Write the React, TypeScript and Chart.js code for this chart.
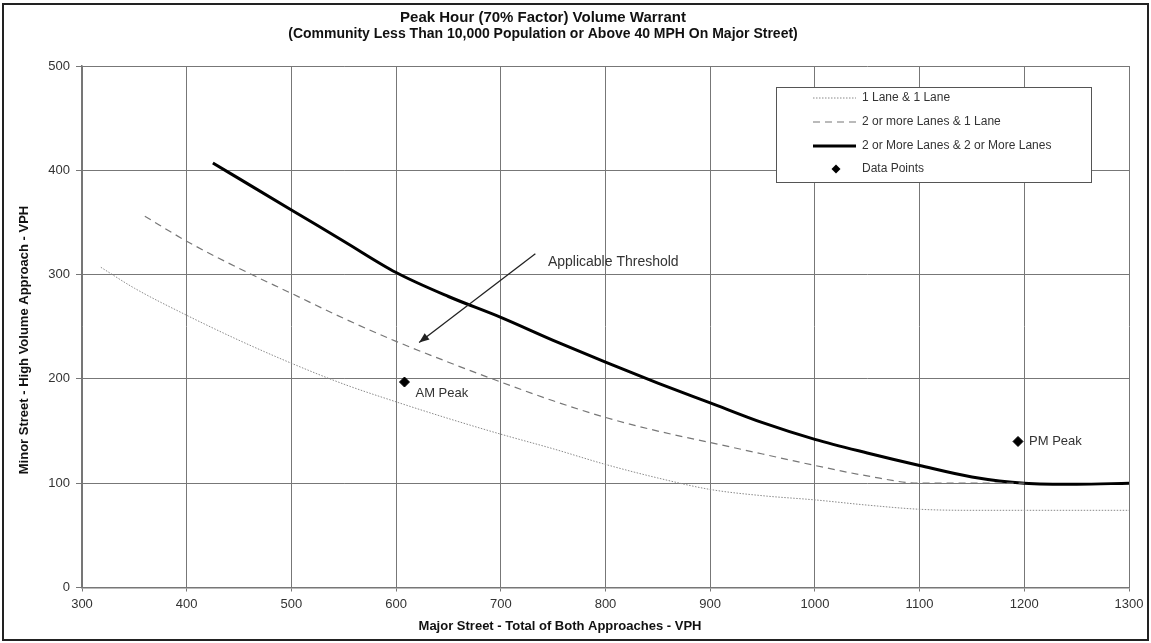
import React, { useEffect, useRef } from 'react';
import { Chart, registerables } from 'chart.js';

Chart.register(...registerables);

const TITLE_LINE = 'Peak Hour (70% Factor) Volume Warrant';
const SUBTITLE_LINE = '(Community Less Than 10,000 Population or Above 40 MPH On Major Street)';
const X_TITLE = 'Major Street - Total of Both Approaches - VPH';
const Y_TITLE = 'Minor Street - High Volume Approach - VPH';

const X_MIN = 300;
const X_MAX = 1300;
const X_STEP = 100;
const Y_MIN = 0;
const Y_MAX = 500;
const Y_STEP = 100;

const SERIES_NAMES = [
  '1 Lane & 1 Lane',
  '2 or more Lanes & 1 Lane',
  '2 or More Lanes & 2 or More Lanes',
  'Data Points',
];

const oneOneX = [318, 350, 400, 450, 500, 550, 600, 650, 700, 750, 800, 850, 900, 950, 1000, 1050, 1100, 1150, 1200, 1250, 1300];
const oneOneY = [307, 287, 261, 237, 215, 195, 178, 162, 147, 133, 118, 105, 94, 88, 84, 79, 75, 74, 74, 74, 74];

const twoOneX = [360, 400, 450, 500, 550, 600, 650, 700, 750, 800, 850, 900, 950, 1000, 1050, 1100, 1150, 1200];
const twoOneY = [356, 332, 306, 282, 258, 236, 216, 197, 179, 163, 150, 139, 128, 117, 107, 100, 100, 100];

const twoTwoX = [425, 450, 500, 550, 600, 650, 700, 750, 800, 850, 900, 950, 1000, 1050, 1100, 1150, 1200, 1250, 1300];
const twoTwoY = [407, 392, 362, 332, 302, 279, 259, 237, 216, 196, 177, 158, 142, 129, 117, 106, 100, 99, 100];

const pointLabels = ['AM Peak', 'PM Peak'];
const pointX = [608, 1194];
const pointY = [197, 140];

const ARROW_TEXT = 'Applicable Threshold';
const arrowFrom = { x: 733, y: 320 };
const arrowTo = { x: 622, y: 235 };
const arrowTextAt = { x: 745, y: 312 };

const FONT = "'Liberation Sans', Arial, sans-serif";
const TEXT = '#333333';
const TITLE_COLOR = '#111111';

const zip = (xs: number[], ys: number[]) => xs.map((x, i) => ({ x, y: ys[i] }));

const titlesPlugin = {
  id: 'titles',
  afterDraw(chart: any) {
    const { ctx } = chart;
    ctx.save();
    ctx.fillStyle = TITLE_COLOR;
    ctx.textAlign = 'center';
    ctx.textBaseline = 'middle';
    ctx.font = `bold 15px ${FONT}`;
    ctx.fillText(TITLE_LINE, 543, 18);
    ctx.font = `bold 14px ${FONT}`;
    ctx.fillText(SUBTITLE_LINE, 543, 34);
    ctx.font = `bold 13px ${FONT}`;
    ctx.fillText(X_TITLE, 560, 626);
    ctx.translate(24, 340);
    ctx.rotate(-Math.PI / 2);
    ctx.fillText(Y_TITLE, 0, 0);
    ctx.restore();
  },
};

const overlayPlugin = {
  id: 'overlay',
  afterDatasetsDraw(chart: any) {
    const { ctx, scales } = chart;
    const xs = scales.x;
    const ys = scales.y;
    ctx.save();
    ctx.font = `13px ${FONT}`;
    ctx.fillStyle = TEXT;
    ctx.textBaseline = 'middle';
    ctx.textAlign = 'left';
    pointLabels.forEach((lbl, i) => {
      const px = xs.getPixelForValue(pointX[i]);
      const py = ys.getPixelForValue(pointY[i]);
      const dy = i === 0 ? 11 : 0;
      ctx.fillText(lbl, px + 11, py + dy);
    });
    const ax1 = xs.getPixelForValue(arrowFrom.x);
    const ay1 = ys.getPixelForValue(arrowFrom.y);
    const ax2 = xs.getPixelForValue(arrowTo.x);
    const ay2 = ys.getPixelForValue(arrowTo.y);
    ctx.strokeStyle = '#222';
    ctx.lineWidth = 1.3;
    ctx.beginPath();
    ctx.moveTo(ax1, ay1);
    ctx.lineTo(ax2, ay2);
    ctx.stroke();
    const ang = Math.atan2(ay2 - ay1, ax2 - ax1);
    const hl = 10;
    const hw = 4;
    ctx.fillStyle = '#222';
    ctx.beginPath();
    ctx.moveTo(ax2, ay2);
    ctx.lineTo(ax2 - hl * Math.cos(ang) + hw * Math.sin(ang), ay2 - hl * Math.sin(ang) - hw * Math.cos(ang));
    ctx.lineTo(ax2 - hl * Math.cos(ang) - hw * Math.sin(ang), ay2 - hl * Math.sin(ang) + hw * Math.cos(ang));
    ctx.closePath();
    ctx.fill();
    ctx.fillStyle = TEXT;
    ctx.font = `14px ${FONT}`;
    ctx.fillText(ARROW_TEXT, xs.getPixelForValue(arrowTextAt.x), ys.getPixelForValue(arrowTextAt.y));

    const lx = 776, ly = 87, lw = 315, lh = 95;
    ctx.fillStyle = '#ffffff';
    ctx.fillRect(lx, ly, lw, lh);
    ctx.strokeStyle = '#555';
    ctx.lineWidth = 1;
    ctx.strokeRect(lx + 0.5, ly + 0.5, lw, lh);
    const rows = [98, 122, 146, 169];
    const styles = [
      { color: '#888', width: 1, dash: [1.5, 1.5] },
      { color: '#777', width: 1.2, dash: [7, 5] },
      { color: '#000', width: 3, dash: [] as number[] },
    ];
    ctx.font = `12px ${FONT}`;
    SERIES_NAMES.forEach((name, i) => {
      const ry = rows[i];
      if (i < 3) {
        const s = styles[i];
        ctx.strokeStyle = s.color;
        ctx.lineWidth = s.width;
        ctx.setLineDash(s.dash);
        ctx.beginPath();
        ctx.moveTo(813, ry);
        ctx.lineTo(856, ry);
        ctx.stroke();
        ctx.setLineDash([]);
      } else {
        ctx.fillStyle = '#000';
        ctx.beginPath();
        ctx.moveTo(836, ry - 4.5);
        ctx.lineTo(840.5, ry);
        ctx.lineTo(836, ry + 4.5);
        ctx.lineTo(831.5, ry);
        ctx.closePath();
        ctx.fill();
      }
      ctx.fillStyle = TEXT;
      ctx.fillText(name, 862, ry);
    });

    ctx.strokeStyle = '#222';
    ctx.lineWidth = 2;
    ctx.strokeRect(3, 4, chart.width - 6, chart.height - 7);
    ctx.restore();
  },
};

export default function App() {
  const canvasRef = useRef<HTMLCanvasElement | null>(null);
  useEffect(() => {
    document.body.style.margin = '0';
    const canvas = canvasRef.current;
    if (!canvas) return;
    const chart = new Chart(canvas, {
      type: 'line',
      data: {
        datasets: [
          {
            label: SERIES_NAMES[0],
            data: zip(oneOneX, oneOneY),
            borderColor: '#8a8a8a',
            borderWidth: 1,
            borderDash: [1.5, 1.5],
            pointRadius: 0,
            cubicInterpolationMode: 'monotone',
            fill: false,
          },
          {
            label: SERIES_NAMES[1],
            data: zip(twoOneX, twoOneY),
            borderColor: '#777',
            borderWidth: 1.2,
            borderDash: [7, 5],
            pointRadius: 0,
            cubicInterpolationMode: 'monotone',
            fill: false,
          },
          {
            label: SERIES_NAMES[2],
            data: zip(twoTwoX, twoTwoY),
            borderColor: '#000',
            borderWidth: 3,
            pointRadius: 0,
            cubicInterpolationMode: 'monotone',
            fill: false,
          },
          {
            label: SERIES_NAMES[3],
            data: zip(pointX, pointY),
            showLine: false,
            pointStyle: 'rectRot',
            pointRadius: 5,
            pointBackgroundColor: '#000',
            pointBorderColor: '#000',
            borderColor: '#000',
          },
        ],
      },
      options: {
        animation: false,
        responsive: true,
        maintainAspectRatio: false,
        layout: { padding: { left: 0, right: 0, top: 66, bottom: 0 } },
        plugins: {
          legend: { display: false },
          tooltip: { enabled: false },
          title: { display: false },
        },
        scales: {
          x: {
            type: 'linear',
            min: X_MIN,
            max: X_MAX,
            afterFit: (s: any) => { s.height = 55.5; s.paddingRight = 22; },
            ticks: {
              stepSize: X_STEP,
              color: TEXT,
              font: { family: FONT, size: 13 },
              padding: 5,
              maxRotation: 0,
              callback: (v: any) => String(v),
            },
            grid: { color: '#777', lineWidth: 1, tickLength: 4, drawTicks: true },
            border: { color: '#777', width: 1.5 },
            title: { display: false, text: X_TITLE },
          },
          y: {
            type: 'linear',
            min: Y_MIN,
            max: Y_MAX,
            afterFit: (s: any) => { s.width = 82; },
            ticks: { stepSize: Y_STEP, color: TEXT, font: { family: FONT, size: 13 }, padding: 6 },
            grid: { color: '#777', lineWidth: 1, tickLength: 6, drawTicks: true },
            border: { color: '#777', width: 1.5 },
            title: { display: false, text: Y_TITLE },
          },
        },
      },
      plugins: [overlayPlugin, titlesPlugin],
    });
    return () => chart.destroy();
  }, []);
  return (
    <div style={{ position: 'relative', width: 1151, height: 643 }}>
      <canvas ref={canvasRef} />
    </div>
  );
}
